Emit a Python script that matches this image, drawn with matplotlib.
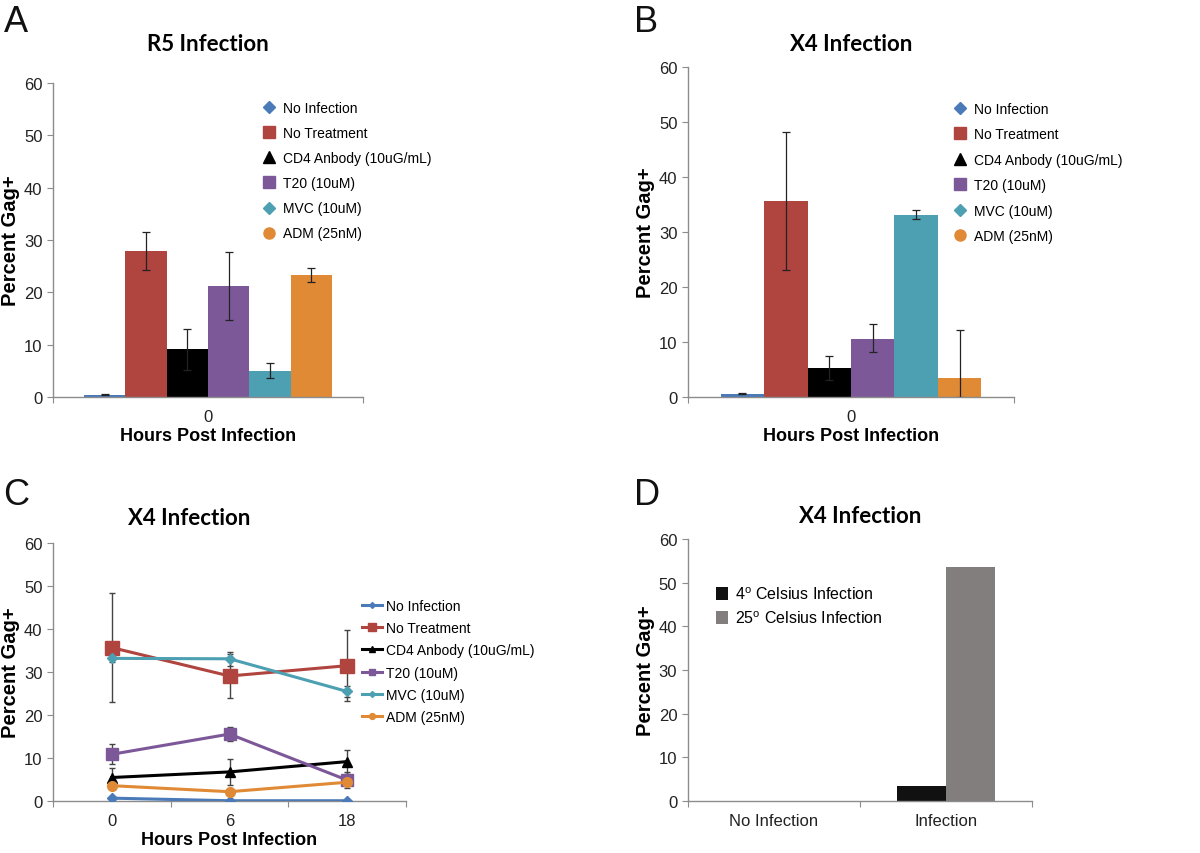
import matplotlib
matplotlib.use("Agg")
import matplotlib.pyplot as plt
from matplotlib.lines import Line2D
import numpy as np

plt.rcParams['font.family'] = ['Liberation Sans', 'DejaVu Sans']

# series shared by panels A-C
series = ["No Infection", "No Treatment", "CD4 Anbody (10uG/mL)", "T20 (10uM)", "MVC (10uM)", "ADM (25nM)"]
colors = ["#4a7ab8", "#b0443f", "#000000", "#7d5899", "#4d9fb2", "#e08a36"]
markers = ["D", "s", "^", "s", "D", "o"]

# panel A: R5 infection, 0 h
r5_vals = [0.4, 27.9, 9.1, 21.3, 5.0, 23.3]
r5_err = [0.1, 3.6, 3.9, 6.5, 1.4, 1.4]

# panel B: X4 infection, 0 h
x4_vals = [0.55, 35.6, 5.3, 10.6, 33.1, 3.4]
x4_err_lo = [0.1, 12.5, 2.2, 2.4, 0.8, 3.4]
x4_err_hi = [0.1, 12.6, 2.2, 2.6, 0.9, 8.8]

# panel C: X4 infection over time
hours = ["0", "6", "18"]
time_vals = [
    [0.6, 0.0, 0.0],
    [35.6, 29.0, 31.4],
    [5.4, 6.7, 9.1],
    [10.8, 15.5, 4.8],
    [33.1, 33.0, 25.4],
    [3.5, 2.1, 4.3],
]
time_err = [
    [0.1, 0.0, 0.0],
    [12.6, 5.2, 8.3],
    [2.2, 3.0, 2.8],
    [2.3, 1.7, 1.8],
    [0.9, 1.6, 1.3],
    [0.5, 0.4, 0.6],
]

# panel D: temperature
temp_cats = ["No Infection", "Infection"]
temp_labels = ["4$^{\\mathregular{o}}$ Celsius Infection", "25$^{\\mathregular{o}}$ Celsius Infection"]
temp_colors = ["#111111", "#827e7d"]
cold_vals = [0.0, 3.4]
warm_vals = [0.0, 53.6]

fig = plt.figure(figsize=(12, 8.54), dpi=100)

title_font = dict(family=['Lato', 'DejaVu Sans'], fontweight='bold', fontsize=16)
TICK = 12


def style_axes(ax):
    for s in ["top", "right"]:
        ax.spines[s].set_visible(False)
    for s in ["left", "bottom"]:
        ax.spines[s].set_color("#8c8c8c")
        ax.spines[s].set_linewidth(1.0)
    ax.set_ylim(0, 60)
    ax.set_yticks(np.arange(0, 61, 10))
    ax.tick_params(axis='both', colors="#8c8c8c", labelcolor="#222222", labelsize=TICK, length=4, direction='out')
    ax.set_ylabel("Percent Gag+", labelpad=3, fontweight='bold', fontsize=14.5)


def cat_ticks(ax, n, labels, ticks_at):
    ax.set_xlim(-0.5, n - 0.5)
    ax.set_xticks(ticks_at)
    ax.set_xticklabels([])
    ax.set_xticks(np.arange(n), minor=True)
    ax.set_xticklabels(labels, minor=True)
    ax.tick_params(axis='x', which='minor', length=0, labelsize=TICK, labelcolor="#222222", pad=9)


def bar_panel(ax, vals, lo, hi):
    style_axes(ax)
    w = 0.8 / len(vals)
    xs = -0.4 + w / 2 + w * np.arange(len(vals))
    ax.bar(xs, vals, width=w, color=colors)
    ax.errorbar(xs, vals, yerr=[lo, hi], fmt='none', ecolor='#222222', elinewidth=0.9, capsize=3, capthick=0.9)
    cat_ticks(ax, 1, ["0"], [-0.5, 0.5])
    ax.set_xlabel("Hours Post Infection", labelpad=2, fontweight='bold', fontsize=13)
    handles = [Line2D([], [], linestyle='none', marker=m, color=c, markersize=8 if m != "D" else 6)
               for m, c in zip(markers, colors)]
    return handles


legend_kw = dict(frameon=False, fontsize=10, borderpad=0, borderaxespad=0)

# Panel A
axA = fig.add_axes([0.0442, 0.534, 0.2583, 0.3676])
hA = bar_panel(axA, r5_vals, r5_err, r5_err)
axA.legend(hA, series, loc='upper left', bbox_to_anchor=(0.674, 0.943),
           labelspacing=0.8, handletextpad=0.5, handlelength=1.0, **legend_kw)
fig.text(0.173, 0.948, "R5 Infection", ha='center', va='center', **title_font)

# Panel B
axB = fig.add_axes([0.5733, 0.534, 0.2717, 0.3864])
hB = bar_panel(axB, x4_vals, x4_err_lo, x4_err_hi)
axB.legend(hB, series, loc='upper left', bbox_to_anchor=(0.813, 0.894),
           labelspacing=0.82, handletextpad=0.5, handlelength=1.0, **legend_kw)
fig.text(0.709, 0.948, "X4 Infection", ha='center', va='center', **title_font)

# Panel C
axC = fig.add_axes([0.0442, 0.0612, 0.2941, 0.3022])
style_axes(axC)
xc = np.arange(len(hours))
msizes = [5, 10, 7, 8, 5, 7]
for vals, err, c, m, ms, name in zip(time_vals, time_err, colors, markers, msizes, series):
    axC.errorbar(xc, vals, yerr=err, fmt='none', ecolor='#444444', elinewidth=1.0, capsize=2.5, capthick=1.0, zorder=2)
    axC.plot(xc, vals, color=c, linewidth=2.2, marker=m, markersize=ms, label=name, zorder=3)
cat_ticks(axC, 3, hours, [-0.5, 0.5, 1.5, 2.5])
axC.set_xlabel("Hours Post Infection", labelpad=2, fontweight='bold', fontsize=13)
axC.legend(loc='upper left', bbox_to_anchor=(0.875, 0.782), labelspacing=0.59,
           handletextpad=0.3, handlelength=1.45, markerscale=0.6, **legend_kw)
fig.text(0.158, 0.393, "X4 Infection", ha='center', va='center', **title_font)

# Panel D
axD = fig.add_axes([0.5731, 0.0612, 0.2869, 0.3061])
style_axes(axD)
xd = np.arange(len(temp_cats))
bw = 0.285
axD.bar(xd - bw / 2, cold_vals, width=bw, color=temp_colors[0], label=temp_labels[0])
axD.bar(xd + bw / 2, warm_vals, width=bw, color=temp_colors[1], label=temp_labels[1])
cat_ticks(axD, 2, temp_cats, [-0.5, 0.5, 1.5])
axD.legend(loc='upper left', bbox_to_anchor=(0.081, 0.825), frameon=False, fontsize=11.5,
           borderpad=0, borderaxespad=0, labelspacing=0.47, handletextpad=0.45,
           handlelength=0.75, handleheight=0.9)
fig.text(0.717, 0.395, "X4 Infection", ha='center', va='center', **title_font)

# panel letters
for x, y, s in [(0.003, 0.962, "A"), (0.528, 0.962, "B"), (0.003, 0.409, "C"), (0.528, 0.409, "D")]:
    fig.text(x, y, s, fontsize=26, ha='left', va='baseline', color="#111111")

fig.savefig("out.png", dpi=100)
